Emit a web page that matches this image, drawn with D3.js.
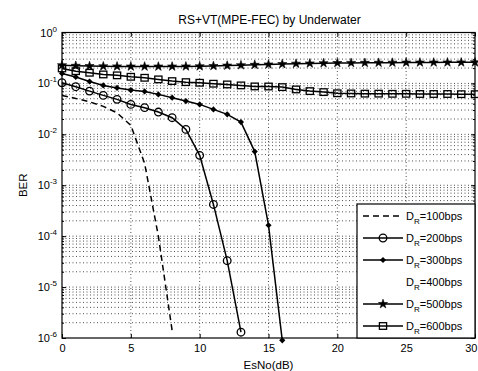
<!DOCTYPE html>
<html>
<head>
<meta charset="utf-8">
<script src="https://cdn.jsdelivr.net/npm/d3@7"></script>
<style>
  html, body { margin: 0; padding: 0; background: #fff; }
  svg { display: block; }
  text { font-family: "Liberation Sans", Arial, sans-serif; fill: #000; }
</style>
</head>
<body>
<svg id="chart" width="478" height="371"></svg>
<script>
// EsNo sweep (dB)
const esNo = [0,1,2,3,4,5,6,7,8,9,10,11,12,13,14,15,16,17,18,19,20,21,22,23,24,25,26,27,28,29,30];

// BER per data rate
const ber100 = [0.058,0.0508,0.0434,0.0354,0.0264,0.015,0.0027,1.0e-4,1.4e-6];
const ber200 = [0.103,0.0861,0.0706,0.0582,0.0486,0.0387,0.0334,0.0274,0.0212,0.0125,0.00387,4.2e-4,3.3e-5,1.3e-6];
const ber300 = [0.157,0.134,0.109,0.0914,0.0816,0.0739,0.0697,0.0609,0.0525,0.045,0.0387,0.0309,0.0247,0.0174,0.00458,1.64e-4,9e-7];
const ber500 = [0.228,0.222,0.219,0.217,0.216,0.215,0.215,0.215,0.215,0.216,0.217,0.22,0.224,0.228,0.232,0.236,0.24,0.244,0.247,0.25,0.252,0.253,0.254,0.255,0.256,0.257,0.258,0.258,0.259,0.259,0.26];
const ber600 = [0.197,0.174,0.162,0.150,0.144,0.135,0.129,0.120,0.111,0.106,0.103,0.0987,0.0955,0.0914,0.0873,0.087,0.0846,0.0762,0.0706,0.0675,0.064,0.0635,0.063,0.063,0.0625,0.0625,0.062,0.062,0.062,0.0615,0.0615];

// Axis ticks
const xTicks = [0,5,10,15,20,25,30];
const yExponents = [0,-1,-2,-3,-4,-5,-6];

// Legend entries
const legendRates = ["100","200","300","400","500","600"];

const plot = { left: 62, right: 475, top: 32.5, bottom: 338 };
const svg = d3.select("#chart");

const x = d3.scaleLinear().domain([0, 30]).range([plot.left, plot.right]);
const y = d3.scaleLog().domain([1e-6, 1]).range([plot.bottom, plot.top]);

// Grid: major x, major + minor y
const grid = svg.append("g").attr("stroke", "#222").attr("stroke-width", 0.8)
  .attr("stroke-dasharray", "1,2.5").attr("fill", "none");
xTicks.slice(1, -1).forEach(t => {
  grid.append("line").attr("x1", x(t)).attr("x2", x(t)).attr("y1", plot.top).attr("y2", plot.bottom);
});
const yGridVals = [];
yExponents.forEach(e => {
  for (let m = 1; m <= 9; m++) {
    const v = m * Math.pow(10, e);
    if (v < 1 && v > 1e-6) yGridVals.push(v);
  }
});
yGridVals.forEach(v => {
  grid.append("line").attr("x1", plot.left).attr("x2", plot.right).attr("y1", y(v)).attr("y2", y(v));
});

// Axes
const xAxis = d3.axisBottom(x).tickValues(xTicks).tickSize(-4).tickPadding(6).tickFormat(d3.format("d"));
const gx = svg.append("g").attr("transform", `translate(0,${plot.bottom})`).call(xAxis);
gx.select(".domain").remove();
gx.selectAll("text").attr("font-size", 11).attr("font-family", "Liberation Sans, Arial, sans-serif");
// last label kept inside the page edge
gx.selectAll("text").filter(d => d === 30).attr("text-anchor", "end").attr("dx", 2);
gx.selectAll("line").attr("stroke", "#000");

const xAxisTop = d3.axisTop(x).tickValues(xTicks).tickSize(-4).tickFormat("");
const gxt = svg.append("g").attr("transform", `translate(0,${plot.top})`).call(xAxisTop);
gxt.select(".domain").remove();

const yTickVals = yExponents.map(e => Math.pow(10, e));
const yAxis = d3.axisLeft(y).tickValues(yTickVals).tickSize(-4).tickPadding(5).tickFormat("");
const gy = svg.append("g").attr("transform", `translate(${plot.left},0)`).call(yAxis);
gy.select(".domain").remove();
const yAxisR = d3.axisRight(y).tickValues(yTickVals).tickSize(-4).tickFormat("");
const gyr = svg.append("g").attr("transform", `translate(${plot.right},0)`).call(yAxisR);
gyr.select(".domain").remove();

// minor y ticks
const minorL = d3.axisLeft(y).tickValues(yGridVals).tickSize(-2).tickFormat("");
const gml = svg.append("g").attr("transform", `translate(${plot.left},0)`).call(minorL);
gml.select(".domain").remove();
const minorR = d3.axisRight(y).tickValues(yGridVals).tickSize(-2).tickFormat("");
const gmr = svg.append("g").attr("transform", `translate(${plot.right},0)`).call(minorR);
gmr.select(".domain").remove();

// y tick labels as 10^e
yExponents.forEach(e => {
  const t = svg.append("text")
    .attr("x", plot.left - 5)
    .attr("y", y(Math.pow(10, e)) + 4)
    .attr("text-anchor", "end")
    .attr("font-size", 11);
  t.append("tspan").text("10");
  t.append("tspan").attr("dy", -5).attr("font-size", 8).text(String(e));
});

// Box
svg.append("rect")
  .attr("x", plot.left).attr("y", plot.top)
  .attr("width", plot.right - plot.left).attr("height", plot.bottom - plot.top)
  .attr("fill", "none").attr("stroke", "#000").attr("stroke-width", 1.2);

// Curves
const line = d3.line().x((d, i) => x(esNo[i])).y(d => y(d));
const series = [
  { rate: "100", data: ber100, dash: "6,4", marker: null },
  { rate: "200", data: ber200, dash: null, marker: "circle" },
  { rate: "300", data: ber300, dash: null, marker: "diamond" },
  { rate: "500", data: ber500, dash: null, marker: "star" },
  { rate: "600", data: ber600, dash: null, marker: "square" }
];

function drawMarker(g, type, cx, cy) {
  if (type === "circle") {
    g.append("circle").attr("cx", cx).attr("cy", cy).attr("r", 3.8)
      .attr("fill", "none").attr("stroke", "#000").attr("stroke-width", 1.3);
  } else if (type === "square") {
    g.append("rect").attr("x", cx - 3.6).attr("y", cy - 3.3).attr("width", 7.2).attr("height", 6.6)
      .attr("fill", "none").attr("stroke", "#000").attr("stroke-width", 1.3);
  } else if (type === "diamond") {
    g.append("path").attr("transform", `translate(${cx},${cy})`)
      .attr("d", d3.symbol(d3.symbolDiamond2, 24)()).attr("fill", "#000");
  } else if (type === "star") {
    g.append("path").attr("transform", `translate(${cx},${cy})`)
      .attr("d", d3.symbol(d3.symbolStar, 26)()).attr("fill", "#000")
      .attr("stroke", "#000").attr("stroke-width", 0.6);
  }
}

series.forEach(s => {
  const g = svg.append("g");
  g.append("path").datum(s.data).attr("d", line)
    .attr("fill", "none").attr("stroke", "#000").attr("stroke-width", 1.5)
    .attr("stroke-dasharray", s.dash);
  if (s.marker) {
    s.data.forEach((v, i) => drawMarker(g, s.marker, x(esNo[i]), y(v)));
  }
});

// Title and axis labels
svg.append("text").attr("x", (plot.left + plot.right) / 2 + 1).attr("y", 24)
  .attr("text-anchor", "middle").attr("font-size", 12).text("RS+VT(MPE-FEC) by Underwater");
svg.append("text").attr("x", (plot.left + plot.right) / 2).attr("y", 369)
  .attr("text-anchor", "middle").attr("font-size", 11.5).text("EsNo(dB)");
svg.append("text").attr("transform", `translate(27,${(plot.top + plot.bottom) / 2}) rotate(-90)`)
  .attr("text-anchor", "middle").attr("font-size", 11.5).text("BER");

// Legend
const leg = { x: 357, y: 204, w: 118, h: 134 };
svg.append("rect").attr("x", leg.x).attr("y", leg.y).attr("width", leg.w).attr("height", leg.h)
  .attr("fill", "#fff").attr("stroke", "#000").attr("stroke-width", 1.2);
const styleByRate = {};
series.forEach(s => styleByRate[s.rate] = s);
legendRates.forEach((r, i) => {
  const cy = leg.y + 12 + i * 22;
  const s = styleByRate[r];
  const g = svg.append("g");
  if (s) {
    g.append("line").attr("x1", leg.x + 6).attr("x2", leg.x + 46).attr("y1", cy).attr("y2", cy)
      .attr("stroke", "#000").attr("stroke-width", 1.5).attr("stroke-dasharray", s.dash);
    if (s.marker) drawMarker(g, s.marker, leg.x + 26, cy);
  }
  const t = g.append("text").attr("x", leg.x + 49).attr("y", cy + 4).attr("font-size", 11);
  t.append("tspan").text("D");
  t.append("tspan").attr("dy", 4).attr("font-size", 8).text("R");
  t.append("tspan").attr("dy", -4).text("=" + r + "bps");
});
</script>
</body>
</html>
